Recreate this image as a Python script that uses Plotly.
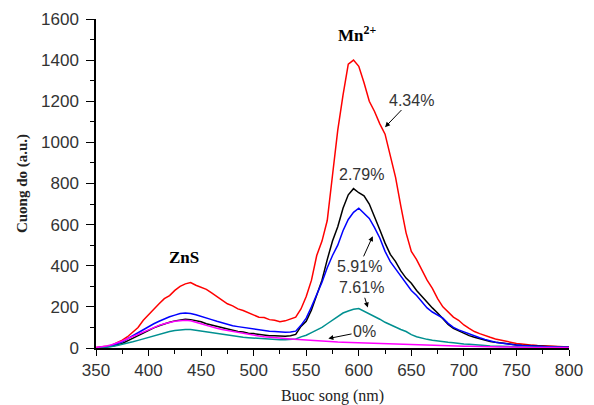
import plotly.graph_objects as go

wavelength = list(range(350, 805, 5))

red_434 = [2, 4, 8, 14, 25, 38, 55, 78, 100, 135, 160, 190, 215, 240, 255, 280, 300, 312, 318, 305,
           295, 285, 268, 250, 235, 215, 205, 190, 182, 170, 162, 150, 148, 138, 135, 128, 132, 140, 150,
           190, 250, 330, 450, 520, 620, 840, 1060, 1230, 1380, 1400, 1370, 1290, 1200, 1150, 1090, 1040, 930, 830, 690,
           560, 470, 430, 380, 330, 290, 240, 200, 175, 150, 135, 112, 95, 80, 70, 60, 52, 44, 38, 32,
           28, 22, 20, 16, 14, 12, 10, 9, 8, 7, 6, 5]
black_279 = [0, 2, 4, 8, 15, 22, 35, 48, 60, 75, 85, 98, 108, 118, 125, 132, 136, 140, 138, 134,
             128, 118, 112, 104, 98, 92, 86, 80, 78, 72, 70, 66, 64, 60, 60, 58, 57, 60, 66,
             105, 130, 185, 260, 330, 430, 520, 590, 680, 745, 775, 755, 740, 700, 640, 575, 510, 455, 420, 375,
             340, 315, 280, 250, 220, 195, 170, 140, 115, 95, 82, 70, 60, 52, 45, 38, 32, 28, 24, 20,
             17, 15, 13, 11, 10, 9, 8, 7, 6, 6, 5, 5]
blue_591 = [1, 3, 6, 12, 20, 30, 45, 60, 75, 90, 105, 118, 130, 142, 152, 160, 168, 170, 168, 162,
            155, 148, 138, 130, 122, 115, 108, 104, 100, 96, 92, 88, 85, 82, 80, 78, 76, 78, 82,
            110, 145, 200, 260, 320, 390, 450, 500, 570, 625, 660, 680, 655, 630, 585, 535, 470, 420, 385, 350,
            310, 280, 255, 225, 195, 175, 160, 145, 120, 100, 88, 78, 70, 58, 50, 42, 34, 28, 24, 20,
            17, 14, 12, 10, 9, 8, 7, 6, 5, 5, 4, 4]
teal_761 = [0, 2, 4, 7, 12, 17, 24, 30, 37, 44, 52, 60, 68, 74, 80, 85, 88, 90, 90, 86,
            82, 78, 74, 70, 65, 62, 58, 55, 52, 50, 48, 45, 43, 42, 40, 40, 40, 41, 44,
            54, 62, 75, 86, 100, 118, 135, 150, 170, 180, 188, 192, 180, 168, 155, 140, 125, 112, 100, 90,
            80, 65, 55, 48, 42, 38, 34, 30, 28, 26, 22, 20, 18, 15, 13, 12, 10, 9, 8, 7,
            6, 6, 5, 5, 4, 4, 3, 3, 3, 2, 2, 2]
magenta_0 = [2, 5, 10, 16, 24, 34, 45, 56, 68, 80, 90, 100, 110, 118, 125, 130, 133, 135, 132, 126,
             118, 110, 102, 96, 90, 85, 80, 75, 70, 66, 62, 58, 55, 52, 50, 48, 46, 44, 42, 40,
             38, 36, 34, 32, 31, 30, 29, 28, 27, 26, 25, 24, 23, 22, 21, 20, 19, 18, 17, 16,
             15, 14, 13, 13, 12, 11, 10, 10, 9, 9, 8, 8, 7, 7, 6, 6, 5, 5, 5, 4,
             4, 4, 3, 3, 3, 3, 2, 2, 2, 2, 2]

series = [
    ("4.34%", red_434, "#ff0000"),
    ("2.79%", black_279, "#000000"),
    ("5.91%", blue_591, "#0000ff"),
    ("7.61%", teal_761, "#009090"),
    ("0%", magenta_0, "#ff00ff"),
]

x_ticks = [350, 400, 450, 500, 550, 600, 650, 700, 750, 800]
y_ticks = [0, 200, 400, 600, 800, 1000, 1200, 1400, 1600]

fig = go.Figure()
for name, ys, col in series:
    fig.add_trace(go.Scatter(x=wavelength, y=ys, mode="lines", name=name,
                             line=dict(color=col, width=1.5), showlegend=False))

tick_font = dict(family="Arial, Liberation Sans", size=17, color="#333333")
serif = "Times New Roman, Liberation Serif"

# the page body adds an 8px offset, so the figure is 8px smaller on each side
fig.update_layout(
    width=586, height=397,
    margin=dict(l=88, r=25, t=11, b=57),
    paper_bgcolor="white", plot_bgcolor="white",
    xaxis=dict(range=[350, 800], tickvals=x_ticks, ticks="outside", ticklen=6, tickwidth=1.2,
               tickcolor="#000", showline=True, linecolor="#000", linewidth=1.5, showgrid=False,
               zeroline=False, tickfont=tick_font, automargin=False,
               minor=dict(dtick=25, ticks="outside", ticklen=4, tickcolor="#000", tickwidth=1),
               title=dict(text="Buoc song (nm)", font=dict(family=serif, size=16, color="#222"), standoff=14)),
    yaxis=dict(range=[0, 1600], tickvals=y_ticks, ticks="outside", ticklen=8, tickwidth=1.2,
               tickcolor="#000", showline=True, linecolor="#000", linewidth=1.5, showgrid=False,
               zeroline=False, tickfont=tick_font, automargin=False, ticklabelstandoff=4,
               minor=dict(dtick=100, ticks="outside", ticklen=4, tickcolor="#000", tickwidth=1),
               title=dict(text="<b>Cuong do (a.u.)</b>", font=dict(family=serif, size=15, color="#222"), standoff=10)),
)

label_font = dict(family="Arial, Liberation Sans", size=16, color="#333333")
# (text, text-centre x, text-centre y, arrow-head x, arrow-head y)
arrow_labels = [("4.34%", 649.7, 1206, 625, 1074),
                ("5.91%", 600.3, 397, 613.3, 544),
                ("7.61%", 602.7, 293, 608.6, 197),
                ("0%", 605.5, 81, 571.1, 46)]
for t, tx, ty, hx, hy in arrow_labels:
    fig.add_annotation(x=hx, y=hy, ax=tx, ay=ty, axref="x", ayref="y", text=t,
                       showarrow=True, arrowhead=2, arrowsize=1, arrowwidth=1, arrowcolor="#000",
                       font=label_font)
fig.add_annotation(x=602.7, y=846, text="2.79%", showarrow=False, font=label_font)

fig.add_annotation(x=598.3, y=1527, text="<b>Mn<sup>2+</sup></b>", showarrow=False,
                   font=dict(family=serif, size=17, color="#000"))
fig.add_annotation(x=433.6, y=441, text="<b>ZnS</b>", showarrow=False,
                   font=dict(family=serif, size=17, color="#000"))

fig.write_html("out.html")
